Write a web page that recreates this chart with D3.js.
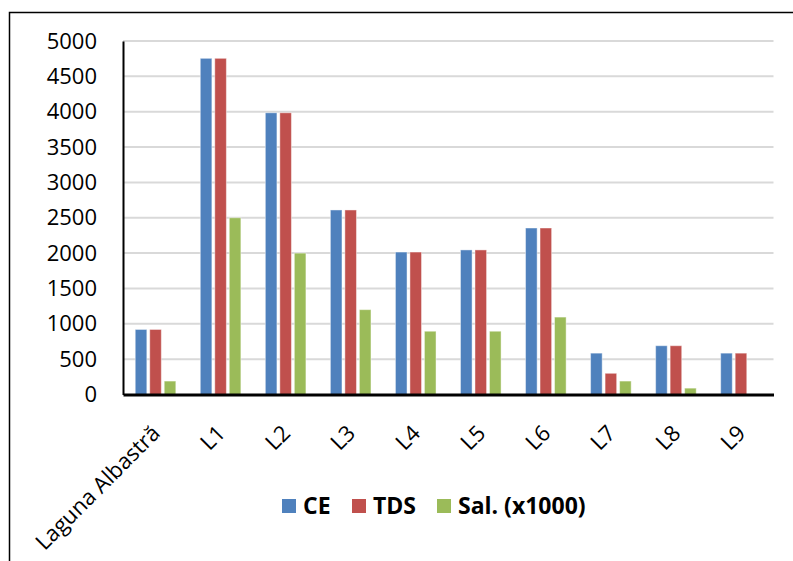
<!DOCTYPE html>
<html>
<head>
<meta charset="utf-8">
<script src="https://cdn.jsdelivr.net/npm/d3@7"></script>
<style>
  html, body { margin: 0; padding: 0; background: #fff; }
  svg { display: block; }
  text { font-family: "Open Sans", "Liberation Sans", sans-serif; fill: #000; }
</style>
</head>
<body>
<svg id="chart" width="793" height="561"></svg>
<script>
const categories = ["Laguna Albastră", "L1", "L2", "L3", "L4", "L5", "L6", "L7", "L8", "L9"];
const seriesNames = ["CE", "TDS", "Sal. (x1000)"];
const ceValues  = [920, 4755, 3985, 2610, 2015, 2045, 2355, 585, 690, 585];
const tdsValues = [920, 4755, 3985, 2610, 2015, 2045, 2355, 300, 690, 585];
const salValues = [190, 2500, 2000, 1200, 895, 895, 1095, 190, 90, 0];
const yTicks = [0, 500, 1000, 1500, 2000, 2500, 3000, 3500, 4000, 4500, 5000];
const colors = ["#4F81BD", "#C0504D", "#9BBB59"];

const seriesValues = [ceValues, tdsValues, salValues];

const svg = d3.select("#chart");

// outer frame
svg.append("rect")
  .attr("x", 9.5).attr("y", 12.5)
  .attr("width", 820).attr("height", 600)
  .attr("fill", "none").attr("stroke", "#000").attr("stroke-width", 1.5);

const pLeft = 123, pRight = 773.5, pTop = 41, pBottom = 394.5;

const x0 = d3.scaleBand().domain(categories).range([pLeft, pRight]).paddingInner(0).paddingOuter(0);
const x1 = d3.scaleBand().domain(seriesNames)
  .range([x0.bandwidth() * 0.188, x0.bandwidth() * 0.812])
  .paddingInner(0.2).paddingOuter(0);
const y = d3.scaleLinear().domain([0, 5000]).range([pBottom, pTop]);

// gridlines
svg.append("g")
  .selectAll("line")
  .data(yTicks.filter(d => d > 0))
  .join("line")
  .attr("x1", pLeft).attr("x2", pRight)
  .attr("y1", d => y(d)).attr("y2", d => y(d))
  .attr("stroke", "#d9d9d9").attr("stroke-width", 2);

// bars
const groups = svg.append("g")
  .selectAll("g")
  .data(categories)
  .join("g")
  .attr("transform", d => `translate(${x0(d)},0)`);

groups.selectAll("rect")
  .data((c, i) => seriesNames.map((s, j) => ({ s, j, v: seriesValues[j][i] })).filter(d => d.v > 0))
  .join("rect")
  .attr("x", d => x1(d.s))
  .attr("width", x1.bandwidth())
  .attr("y", d => y(d.v))
  .attr("height", d => pBottom - y(d.v))
  .attr("fill", d => colors[d.j])
  .attr("stroke", "rgba(255,255,255,0.45)")
  .attr("stroke-width", 1);

// y axis
const yAxis = d3.axisLeft(y).tickValues(yTicks).tickSize(0).tickPadding(26).tickFormat(d3.format("d"));
const gy = svg.append("g").attr("transform", `translate(${pLeft},0)`).call(yAxis);
gy.select(".domain").attr("stroke", "#000").attr("stroke-width", 2);
gy.selectAll("text").attr("font-size", 22).style("font-family", "\"Open Sans\", sans-serif");

// x axis
const xAxis = d3.axisBottom(x0).tickSize(0).tickPadding(0);
const gx = svg.append("g").attr("transform", `translate(0,${pBottom})`).call(xAxis);
gx.select(".domain").attr("stroke", "#000").attr("stroke-width", 3);
gx.selectAll("text")
  .attr("font-size", 22)
  .style("font-family", "\"Open Sans\", sans-serif")
  .attr("text-anchor", "end")
  .attr("dy", 0)
  .attr("transform", "translate(6,40) rotate(-45)");

// legend
const legendItems = [
  { name: seriesNames[0], color: colors[0], x: 282 },
  { name: seriesNames[1], color: colors[1], x: 352 },
  { name: seriesNames[2], color: colors[2], x: 437 }
];
const lg = svg.append("g");
lg.selectAll("rect")
  .data(legendItems)
  .join("rect")
  .attr("x", d => d.x).attr("y", 499)
  .attr("width", 14).attr("height", 14)
  .attr("fill", d => d.color);
lg.selectAll("text")
  .data(legendItems)
  .join("text")
  .attr("x", d => d.x + 21).attr("y", 514)
  .attr("font-size", 23).attr("font-weight", "bold")
  .text(d => d.name);
</script>
</body>
</html>
